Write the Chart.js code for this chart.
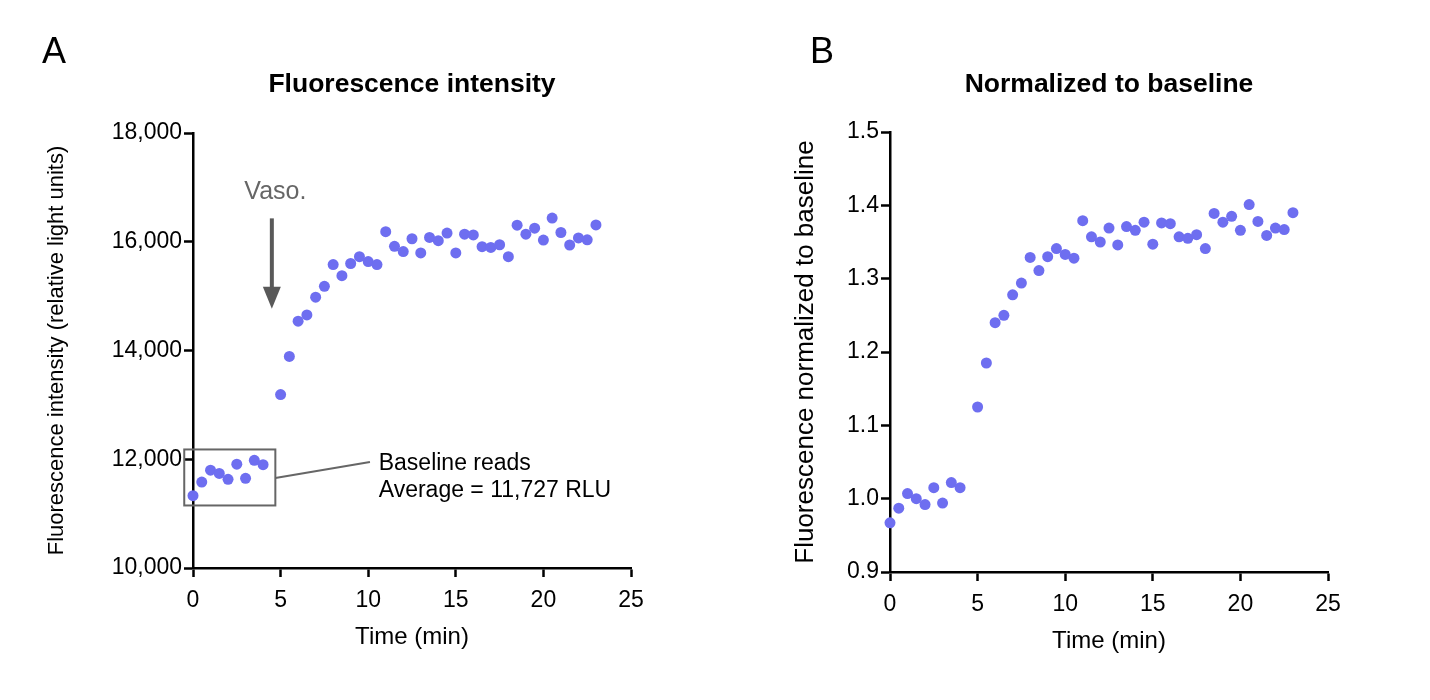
<!DOCTYPE html>
<html>
<head>
<meta charset="utf-8">
<script src="https://cdn.jsdelivr.net/npm/chart.js@4.4.1/dist/chart.umd.min.js"></script>
<style>
  body { margin: 0; background: #fff; }
  .panel { position: absolute; top: 0; width: 715px; height: 700px; }
</style>
</head>
<body>
<div class="panel" style="left:0"><canvas id="chartA" width="715" height="700"></canvas></div>
<div class="panel" style="left:715px"><canvas id="chartB" width="715" height="700"></canvas></div>
<script>
// Time of each read (min); no read at 4.5 min (vasopressin added)
const timeMin = [0, 0.5, 1, 1.5, 2, 2.5, 3, 3.5, 4,
    5, 5.5, 6, 6.5, 7, 7.5, 8, 8.5, 9, 9.5, 10, 10.5, 11, 11.5, 12, 12.5, 13, 13.5,
    14, 14.5, 15, 15.5, 16, 16.5, 17, 17.5, 18, 18.5, 19, 19.5, 20, 20.5, 21, 21.5,
    22, 22.5, 23];

// Panel A - raw fluorescence (RLU)
const rawRLU = [11330, 11580, 11800, 11740, 11630, 11910, 11650, 11980, 11900,
    13190, 13890, 14540, 14655, 14980, 15180, 15580, 15375, 15600, 15725, 15635, 15580,
    16185, 15915, 15820, 16055, 15795, 16080, 16020, 16160, 15795, 16140, 16125, 15910,
    15895, 15945, 15725, 16305, 16140, 16250, 16030, 16435, 16170, 15940, 16070, 16035,
    16310];

// Panel B - normalized to baseline average
const normalized = [0.967, 0.987, 1.007, 1.000, 0.992, 1.015, 0.994, 1.022, 1.015,
    1.125, 1.185, 1.240, 1.250, 1.278, 1.294, 1.329, 1.311, 1.330, 1.341, 1.333, 1.328,
    1.379, 1.357, 1.350, 1.369, 1.346, 1.371, 1.366, 1.377, 1.347, 1.376, 1.375, 1.357,
    1.355, 1.360, 1.341, 1.389, 1.377, 1.385, 1.366, 1.401, 1.378, 1.359, 1.369, 1.367,
    1.390];

const xTicks = [0, 5, 10, 15, 20, 25];
const yTicksA = [10000, 12000, 14000, 16000, 18000];
const yTicksB = [0.9, 1.0, 1.1, 1.2, 1.3, 1.4, 1.5];

const POINT_COLOR = '#6E6EF0';
const FONT = 'Liberation Sans, Arial, Helvetica, sans-serif';

// draws panel letter, title and (optionally) the annotations of panel A
const decorPlugin = {
    id: 'decor',
    afterDraw(chart, args, opts) {
        const ctx = chart.ctx;
        const area = chart.chartArea;
        ctx.save();
        ctx.fillStyle = '#000';
        ctx.font = '36px ' + FONT;
        ctx.textAlign = 'left';
        ctx.textBaseline = 'alphabetic';
        ctx.fillText(opts.letter, opts.letterX, 63);
        ctx.font = 'bold 26.5px ' + FONT;
        ctx.textAlign = 'center';
        ctx.textBaseline = 'middle';
        ctx.fillText(opts.title, (area.left + area.right) / 2, 85);

        if (opts.annotate) {
            const x = chart.scales.x, y = chart.scales.y;
            // Vaso. label + arrow
            ctx.fillStyle = '#666';
            ctx.font = '25px ' + FONT;
            ctx.textBaseline = 'alphabetic';
            ctx.fillText('Vaso.', x.getPixelForValue(4.7), y.getPixelForValue(16790));
            const ax = x.getPixelForValue(4.5);
            const aTop = y.getPixelForValue(16430);
            const aTip = y.getPixelForValue(14770);
            ctx.strokeStyle = '#595959';
            ctx.fillStyle = '#595959';
            ctx.lineWidth = 4;
            ctx.beginPath();
            ctx.moveTo(ax, aTop);
            ctx.lineTo(ax, aTip - 18);
            ctx.stroke();
            ctx.beginPath();
            ctx.moveTo(ax - 9, aTip - 22);
            ctx.lineTo(ax + 9, aTip - 22);
            ctx.lineTo(ax, aTip);
            ctx.closePath();
            ctx.fill();
            // baseline box
            const bx1 = x.getPixelForValue(-0.5), bx2 = x.getPixelForValue(4.7);
            const by1 = y.getPixelForValue(12180), by2 = y.getPixelForValue(11150);
            ctx.strokeStyle = '#666';
            ctx.lineWidth = 2;
            ctx.strokeRect(bx1, by1, bx2 - bx1, by2 - by1);
            ctx.beginPath();
            ctx.moveTo(bx2, y.getPixelForValue(11657));
            ctx.lineTo(x.getPixelForValue(10.1), y.getPixelForValue(11950));
            ctx.stroke();
            ctx.fillStyle = '#000';
            ctx.font = '23px ' + FONT;
            ctx.textAlign = 'left';
            ctx.fillText('Baseline reads', x.getPixelForValue(10.6), y.getPixelForValue(11798));
            ctx.fillText('Average = 11,727 RLU', x.getPixelForValue(10.6), y.getPixelForValue(11308));
        }
        ctx.restore();
    }
};

function makeScatter(canvasId, values, cfg) {
    const points = timeMin.map((t, i) => ({ x: t, y: values[i] }));
    return new Chart(document.getElementById(canvasId), {
        type: 'scatter',
        data: {
            datasets: [{
                data: points,
                backgroundColor: POINT_COLOR,
                borderWidth: 0,
                pointRadius: 5.5,
                pointHoverRadius: 5.5,
                clip: false
            }]
        },
        plugins: [decorPlugin],
        options: {
            responsive: false,
            animation: false,
            events: [],
            layout: { padding: cfg.padding },
            scales: {
                x: {
                    type: 'linear',
                    min: 0, max: 25,
                    afterBuildTicks: s => { s.ticks = xTicks.map(v => ({ value: v })); },
                    afterFit: s => { s.height = cfg.xHeight; },
                    border: { display: true, color: '#000', width: 2.5 },
                    grid: { drawOnChartArea: false, drawTicks: true, tickLength: 9, tickColor: '#000', tickWidth: 2.5 },
                    ticks: { color: '#000', font: { family: FONT, size: 23 }, padding: 10, maxRotation: 0 },
                    title: { display: true, text: 'Time (min)', color: '#000', font: { family: FONT, size: 24 }, padding: { bottom: cfg.xTitlePad } }
                },
                y: {
                    type: 'linear',
                    min: cfg.yMin, max: cfg.yMax,
                    afterBuildTicks: s => { s.ticks = cfg.yTicks.map(v => ({ value: v })); },
                    afterFit: s => { s.width = cfg.yWidth; },
                    border: { display: true, color: '#000', width: 2.5 },
                    grid: { drawOnChartArea: false, drawTicks: true, tickLength: 9, tickColor: '#000', tickWidth: 2.5 },
                    ticks: { color: '#000', font: { family: FONT, size: 23 }, padding: 2, callback: cfg.yFormat },
                    title: { display: true, text: cfg.yTitle, color: '#000', font: { family: FONT, size: cfg.yTitleSize }, padding: { top: cfg.yTitlePad } }
                }
            },
            plugins: {
                legend: { display: false },
                tooltip: { enabled: false },
                decor: cfg.decor
            }
        }
    });
}

makeScatter('chartA', rawRLU, {
    padding: { left: 40, right: 84, top: 133, bottom: 20 },
    xHeight: 112, yWidth: 153, xTitlePad: 28, yTitlePad: 4,
    yMin: 10000, yMax: 18000, yTicks: yTicksA,
    yFormat: v => v.toLocaleString('en-US'),
    yTitle: 'Fluorescence intensity (relative light units)', yTitleSize: 22,
    decor: { letter: 'A', letterX: 42, title: 'Fluorescence intensity', annotate: true }
});

makeScatter('chartB', normalized, {
    padding: { left: 70, right: 102, top: 132, bottom: 20 },
    xHeight: 108, yWidth: 105, xTitlePad: 24, yTitlePad: 5,
    yMin: 0.9, yMax: 1.5, yTicks: yTicksB,
    yFormat: v => v.toFixed(1),
    yTitle: 'Fluorescence normalized to baseline', yTitleSize: 26,
    decor: { letter: 'B', letterX: 95, title: 'Normalized to baseline', annotate: false }
});
</script>
</body>
</html>
